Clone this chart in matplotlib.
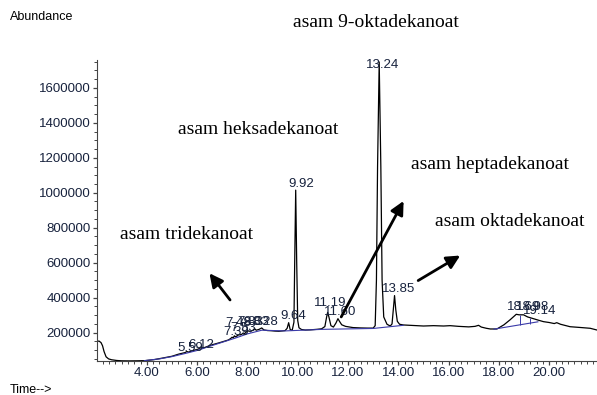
import matplotlib
matplotlib.use("Agg")
import matplotlib.pyplot as plt
from matplotlib.ticker import MultipleLocator

# trace (time in min, abundance)
time = [2.02, 2.10, 2.18, 2.24, 2.30, 2.38, 2.48, 2.60, 2.80, 3.0, 3.3, 3.6, 3.93,
        4.3, 4.6, 5.0, 5.26, 5.52, 5.59, 5.66, 5.92, 6.05, 6.12, 6.2, 6.58, 6.9,
        7.24, 7.33, 7.39, 7.44, 7.48, 7.53, 7.63, 7.77, 7.83, 7.9, 7.95, 8.03,
        8.13, 8.23, 8.28, 8.35, 8.45, 8.57, 8.65, 8.8, 8.95, 9.1, 9.25, 9.4, 9.5,
        9.58, 9.64, 9.70, 9.78, 9.85, 9.88, 9.92, 9.96, 10.0, 10.05, 10.15, 10.3,
        10.5, 10.76, 10.95, 11.08, 11.15, 11.19, 11.24, 11.32, 11.42, 11.52, 11.60,
        11.66, 11.75, 11.9, 12.2, 12.5, 12.8, 13.0, 13.08, 13.13, 13.175, 13.24,
        13.305, 13.355, 13.42, 13.55, 13.68, 13.75, 13.80, 13.85, 13.90, 13.96,
        14.05, 14.2, 14.6, 15.0, 15.4, 15.8, 16.06, 16.4, 16.8, 17.05, 17.19, 17.3,
        17.5, 17.66, 17.92, 18.2, 18.44, 18.69, 18.8, 18.98, 19.14, 19.37, 19.6,
        19.77, 20.0, 20.2, 20.3, 20.45, 20.83, 21.2, 21.63, 21.9]
abundance = [150000, 152000, 143000, 125000, 92000, 62000, 50000, 45000, 41000, 39000,
             38500, 39000, 40000, 46000, 54000, 65000, 77000, 86000, 92000, 89000,
             101000, 106000, 114000, 110000, 130000, 143000, 158000, 166000, 174000,
             170000, 182000, 176000, 186000, 190000, 198000, 195000, 204000, 210000,
             207000, 215000, 223000, 214000, 218000, 227000, 216000, 212000, 211000,
             209000, 208000, 210000, 212000, 225000, 257000, 218000, 213000, 260000,
             600000, 1015000, 600000, 270000, 228000, 218000, 215000, 216000, 219000,
             222000, 235000, 290000, 316000, 290000, 240000, 232000, 255000, 280000,
             265000, 245000, 236000, 229000, 227000, 226000, 226000, 240000, 500000,
             1150000, 1748000, 1150000, 500000, 290000, 248000, 238000, 250000, 330000,
             412000, 330000, 265000, 248000, 244000, 241000, 238000, 240000, 238000,
             240000, 236000, 233000, 236000, 242000, 232000, 225000, 221000, 221000,
             245000, 273000, 305000, 302000, 302000, 290000, 280000, 270000, 263000,
             258000, 252000, 257000, 248000, 234000, 230000, 225000, 215000]

# integration baselines
base_t = [3.9, 4.5, 5.0, 5.5, 6.0, 6.5, 7.0, 7.5, 8.0, 8.57, 9.5, 11.0, 13.0, 14.2]
base_v = [40000, 50000, 63000, 80000, 98000, 122000, 145000, 168000, 193000, 214000,
          210000, 219000, 224000, 242000]
base2_t = [17.8, 19.55]
base2_v = [220000, 262000]
drop_t = [7.44, 7.58, 7.72, 7.9, 8.1, 18.85, 19.25]
drop_lo = [168000, 175000, 183000, 192000, 202000, 241000, 251000]
drop_hi = [172000, 182000, 189000, 196000, 208000, 302000, 283000]

# peak labels: text, left time, centre abundance
peak_txt = ["5.59", "6.12", "7.39", "7.48", "7.53", "7.83", "8.03", "8.28", "9.64",
            "9.92", "11.19", "11.60", "13.24", "13.85", "18.69", "18.98", "19.14"]
peak_t = [5.22, 5.66, 7.06, 7.12, 7.32, 7.60, 7.85, 8.18, 9.30, 9.62, 10.66, 11.06,
          12.72, 13.34, 18.30, 18.68, 18.95]
peak_v = [111000, 130000, 206000, 258000, 225000, 262000, 262000, 262000, 295000,
          1050000, 372000, 317000, 1730000, 448000, 345000, 345000, 322000]

yticks = [200000, 400000, 600000, 800000, 1000000, 1200000, 1400000, 1600000]
xticks = [4, 6, 8, 10, 12, 14, 16, 18, 20]

tick_col = "#17223d"

fig = plt.figure(figsize=(5.97, 3.95), dpi=100)
ax = fig.add_axes([0.1625, 0.0861, 0.8375, 0.762])

ax.plot(time, abundance, color="black", lw=0.9)
ax.plot(base_t, base_v, color="#3a3aa8", lw=0.8)
ax.plot(base2_t, base2_v, color="#3a3aa8", lw=0.8)
ax.vlines(drop_t, drop_lo, drop_hi, color="#3a3aa8", lw=0.7)

for s, t, v in zip(peak_txt, peak_t, peak_v):
    ax.text(t, v, s, ha="left", va="center", fontsize=9.5, color=tick_col,
            family="Liberation Sans")

ax.set_xlim(2.02, 21.9)
ax.set_ylim(38000, 1759000)
ax.set_xticks(xticks)
ax.set_xticklabels(["%.2f" % x for x in xticks])
ax.set_yticks(yticks)
ax.set_yticklabels([str(y) for y in yticks])
ax.xaxis.set_minor_locator(MultipleLocator(0.25))
ax.yaxis.set_minor_locator(MultipleLocator(50000))
for lab in ax.get_xticklabels() + ax.get_yticklabels():
    lab.set_family("Liberation Sans")
    lab.set_fontsize(9.5)
    lab.set_color(tick_col)
ax.tick_params(axis="both", which="major", length=3, width=0.9, color="#444444", pad=1.5)
ax.tick_params(axis="both", which="minor", length=2, width=0.7, color="#444444")
ax.spines["top"].set_visible(False)
ax.spines["right"].set_visible(False)
ax.spines["left"].set_color("#444444")
ax.spines["bottom"].set_color("#444444")

# compound names
serif = "Liberation Serif"
ax.text(9.83, 1976000, "asam 9-oktadekanoat", fontsize=14, family=serif, va="center", clip_on=False)
ax.text(5.24, 1359000, "asam heksadekanoat", fontsize=14, family=serif, va="center")
ax.text(14.51, 1159000, "asam heptadekanoat", fontsize=14, family=serif, va="center")
ax.text(2.94, 764000, "asam tridekanoat", fontsize=14, family=serif, va="center")
ax.text(15.46, 838000, "asam oktadekanoat", fontsize=14, family=serif, va="center")

arrow = dict(arrowstyle="-|>", color="black", lw=2, mutation_scale=20, shrinkA=0, shrinkB=0)
ax.annotate("", xy=(6.49, 539600), xytext=(7.31, 387000), arrowprops=arrow)
ax.annotate("", xy=(14.21, 953000), xytext=(11.73, 290000), arrowprops=arrow)
ax.annotate("", xy=(16.46, 641000), xytext=(14.79, 498000), arrowprops=arrow)

fig.text(0.0168, 0.957, "Abundance", fontsize=9, family="Liberation Sans", va="center")
fig.text(0.0168, 0.028, "Time-->", fontsize=9, family="Liberation Sans", va="top")

fig.savefig("out.png", dpi=100)
